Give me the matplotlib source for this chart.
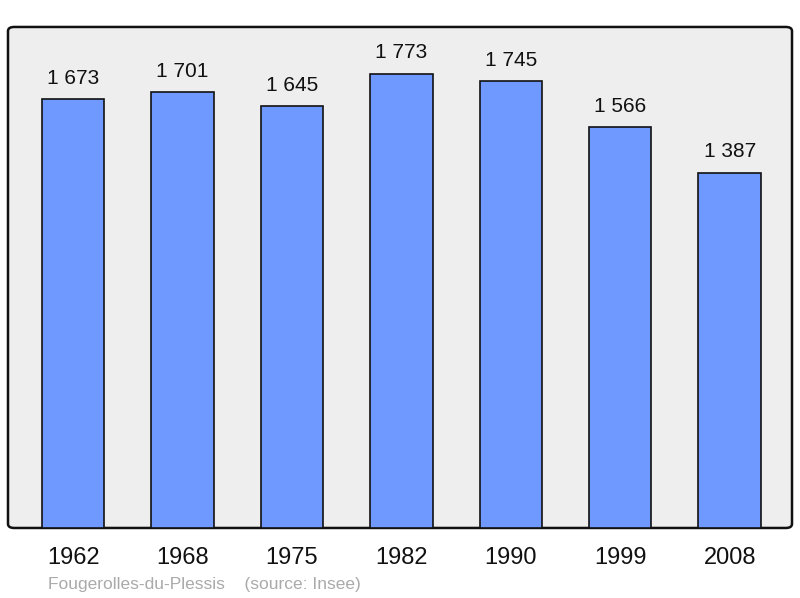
import matplotlib.pyplot as plt
from matplotlib.patches import FancyBboxPatch

years = ['1962', '1968', '1975', '1982', '1990', '1999', '2008']
population = [1673, 1701, 1645, 1773, 1745, 1566, 1387]
labels = ['1 673', '1 701', '1 645', '1 773', '1 745', '1 566', '1 387']

plt.rcParams['font.family'] = ['Liberation Sans', 'DejaVu Sans']

fig = plt.figure(figsize=(8, 5.98), dpi=100)
ax = fig.add_axes([0.01, 0.1171, 0.98, 0.8378])
ax.set_facecolor('none')
for s in ax.spines.values():
    s.set_visible(False)

# rounded frame behind the bars
frame = FancyBboxPatch((0, 0), 1, 1, boxstyle='round,pad=0,rounding_size=0.008',
                       transform=ax.transAxes, facecolor='#eeeeee',
                       edgecolor='#111111', linewidth=1.8, zorder=0, clip_on=False)
ax.add_patch(frame)

x = range(len(years))
ax.bar(x, population, width=0.57, color='#7099ff', edgecolor='#111111',
       linewidth=1.2, zorder=2)
for xi, v, lab in zip(x, population, labels):
    ax.annotate(lab, (xi, v), xytext=(0, 8), textcoords='offset points',
                ha='center', va='bottom', fontsize=15, color='#111111')

ax.set_xlim(-0.595, 6.57)
ax.set_ylim(0, 1955)
ax.set_yticks([])
ax.set_xticks(list(x))
ax.set_xticklabels(years, fontsize=17, color='#111111')
ax.tick_params(axis='x', length=0, pad=14)

fig.text(0.06, 0.010, 'Fougerolles-du-Plessis    (source: Insee)',
         fontsize=12.5, color='#aaaaaa', ha='left', va='bottom')

fig.savefig('out.png', dpi=100)
